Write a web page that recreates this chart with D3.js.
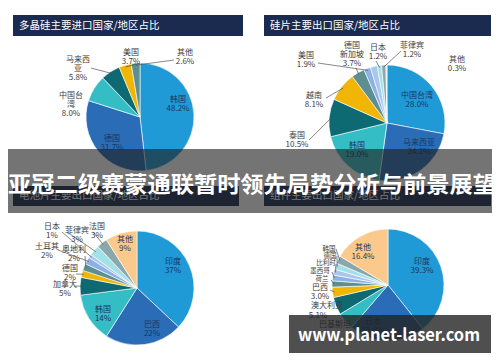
<!DOCTYPE html>
<html>
<head>
<meta charset="utf-8">
<script src="https://cdn.jsdelivr.net/npm/d3@7"></script>
<style>
  body { margin: 0; background: #fff; }
  svg { display: block; }
  text { font-family: "Noto Sans CJK SC", "Noto Sans", sans-serif; }
</style>
</head>
<body>
<svg id="chart" width="500" height="362"></svg>
<script>
// --- data ---
const polyNames = ['韩国', '德国', '中国台湾', '马来西亚', '美国', '其他'];
const polyValues = [48.2, 31.7, 8.0, 5.8, 3.7, 2.6];

const waferNames = ['中国台湾', '马来西亚', '韩国', '泰国', '越南', '新加坡', '美国', '德国', '日本', '菲律宾', '其他'];
const waferValues = [28.0, 24.2, 19.0, 10.5, 8.1, 3.7, 1.9, 1.9, 1.2, 1.2, 0.3];

const cellNames = ['印度', '巴西', '韩国', '加拿大', '德国', '奥地利', '土耳其', '日本', '菲律宾', '法国', '其他'];
const cellValues = [37, 22, 14, 5, 2, 2, 2, 1, 3, 3, 9];

const moduleNames = ['印度', '日本', '巴基斯坦', '澳大利亚', '巴西', '荷兰', '墨西哥', '比利时', '德国', '韩国', '其他'];
const moduleValues = [39.3, 22.0, 5.0, 5.1, 3.0, 1.8, 1.7, 1.7, 1.8, 2.2, 16.4];

const panelTitles = ['多晶硅主要进口国家/地区占比', '硅片主要出口国家/地区占比', '电池片主要出口国家/地区占比', '组件主要出口国家/地区占比'];
const bannerTitle = '亚冠二级赛蒙通联暂时领先局势分析与前景展望';
const watermark = 'www.planet-laser.com';

// --- styles ---
const col = {
  blue: '#1f9ad6', mid: '#2a6cb6', cyan: '#35bdc5', teal: '#0d6972', gold: '#f0b505',
  grayteal: '#5e8f90', steel: '#8cb1e4', lsteel: '#a9c6ec', pale: '#a3e1e9', gray: '#8ca7ab',
  peach: '#fbc98c', ice: '#cfe6ea'
};
const polyColors = [col.blue, col.mid, col.cyan, col.teal, col.gold, col.grayteal];
const waferColors = [col.blue, col.mid, col.cyan, col.teal, col.gold, col.grayteal, col.steel, col.lsteel, col.pale, col.gray, col.ice];
const cellColors = [col.blue, col.mid, col.cyan, col.teal, col.gold, col.grayteal, col.steel, col.lsteel, col.pale, col.gray, col.peach];
const moduleColors = [col.blue, col.mid, col.cyan, col.teal, col.gold, col.grayteal, col.steel, col.lsteel, col.pale, col.gray, col.peach];

// label placement (annotation layout): x, y of first line, optional line split, leader start
const polyLabels = {
  '韩国': { x: 178, y: 100, inside: true },
  '德国': { x: 112, y: 139, inside: true },
  '中国台湾': { x: 71, y: 96, lines: ['中国台', '湾'] },
  '马来西亚': { x: 78, y: 60, lines: ['马来西', '亚'], lead: [91, 68] },
  '美国': { x: 131, y: 53, lead: [137, 64] },
  '其他': { x: 185, y: 53, lead: [174, 60] }
};
const waferLabels = {
  '中国台湾': { x: 417, y: 96, inside: true },
  '马来西亚': { x: 419, y: 143, inside: true },
  '韩国': { x: 357, y: 146, inside: true },
  '泰国': { x: 297, y: 136, lead: [309, 140] },
  '越南': { x: 314, y: 96, lead: [326, 98] },
  '新加坡': { x: 352, y: 46, lines: ['德国', '新加坡'], lead: [356, 68] },
  '美国': { x: 306, y: 56, lead: [318, 63] },
  '德国': { skip: true },
  '日本': { x: 378, y: 48, lead: [376, 61] },
  '菲律宾': { x: 412, y: 46, lead: [401, 51] },
  '其他': { x: 457, y: 60 }
};
const cellLabels = {
  '印度': { x: 173, y: 262, inside: true },
  '巴西': { x: 152, y: 325, inside: true },
  '韩国': { x: 103, y: 310, inside: true },
  '加拿大': { x: 65, y: 285, lead: [74, 286] },
  '德国': { x: 70, y: 269, lead: [76, 274] },
  '奥地利': { x: 74, y: 250, lead: [85, 256] },
  '土耳其': { x: 47, y: 247, lead: [58, 250] },
  '日本': { x: 52, y: 227, lead: [62, 232] },
  '菲律宾': { x: 77, y: 231, lead: [67, 232] },
  '法国': { x: 97, y: 227, lead: [93, 232] },
  '其他': { x: 125, y: 240, inside: true }
};
const moduleLabels = {
  '印度': { x: 422, y: 262, inside: true },
  '日本': { x: 373, y: 322, inside: true },
  '巴基斯坦': { x: 335, y: 325, nopct: true },
  '澳大利亚': { x: 327, y: 306, pctAt: [318, 316], lead: [340, 305] },
  '巴西': { x: 320, y: 288, lead: [330, 290] },
  '荷兰': { x: 322, y: 279, nopct: true, small: true, lead: [331, 280] },
  '墨西哥': { x: 320, y: 271, nopct: true, small: true, lead: [332, 272] },
  '比利时': { x: 326, y: 263, nopct: true, small: true, lead: [336, 264] },
  '德国': { x: 330, y: 256, nopct: true, small: true, lead: [337, 256] },
  '韩国': { x: 329, y: 249, nopct: true, small: true, lead: [336, 249] },
  '其他': { x: 363, y: 248, inside: true }
};

const svg = d3.select('#chart');
const lineGap = 9;

function drawPie(names, values, colors, cx, cy, r, labels, fmt) {
  const pie = d3.pie().sort(null).value(d => d.v);
  const arcs = pie(names.map((n, i) => ({ n: n, v: values[i] })));
  const arc = d3.arc().innerRadius(0).outerRadius(r);
  const rim = d3.arc().innerRadius(r - 2).outerRadius(r - 2);
  const g = svg.append('g').attr('transform', 'translate(' + cx + ',' + cy + ')');

  g.selectAll('path')
    .data(arcs)
    .enter().append('path')
    .attr('d', arc)
    .attr('fill', (d, i) => colors[i])
    .attr('stroke', '#fff')
    .attr('stroke-width', 0.6);

  arcs.forEach(d => {
    const lab = labels[d.data.n];
    if (!lab || lab.skip) return;
    if (lab.lead) {
      const p = rim.centroid(d);
      svg.append('line')
        .attr('x1', lab.lead[0]).attr('y1', lab.lead[1])
        .attr('x2', cx + p[0]).attr('y2', cy + p[1])
        .attr('stroke', '#555').attr('stroke-width', 0.7);
    }
    const lines = (lab.lines || [d.data.n]).slice();
    const pct = fmt(d.data.v) + '%';
    const t = svg.append('text')
      .attr('text-anchor', 'middle')
      .attr('dominant-baseline', 'middle')
      .attr('font-size', lab.small ? 6.5 : 8)
      .attr('fill', lab.inside ? '#1c355c' : '#3c3c3c');
    lines.forEach((s, k) => {
      t.append('tspan').attr('x', lab.x).attr('y', lab.y + k * lineGap).text(s);
    });
    if (!lab.nopct) {
      if (lab.pctAt) {
        t.append('tspan').attr('x', lab.pctAt[0]).attr('y', lab.pctAt[1]).text(pct);
      } else {
        t.append('tspan').attr('x', lab.x).attr('y', lab.y + lines.length * lineGap).text(pct);
      }
    }
  });
}

// panel header bars
const headers = [[13, 15, 230, 21], [264, 15, 227, 21], [13, 186, 226, 20], [264, 186, 227, 20]];
headers.forEach((h, i) => {
  svg.append('rect').attr('x', h[0]).attr('y', h[1]).attr('width', h[2]).attr('height', h[3]).attr('fill', '#1b2b50');
  svg.append('text')
    .attr('x', h[0] + 6).attr('y', h[1] + h[3] / 2 + 0.5)
    .attr('dominant-baseline', 'middle')
    .attr('font-size', 10.5)
    .attr('fill', '#fff')
    .text(panelTitles[i]);
});

const f1 = d3.format('.1f');
const f0 = d3.format('d');
drawPie(polyNames, polyValues, polyColors, 140, 117, 54, polyLabels, f1);
drawPie(waferNames, waferValues, waferColors, 387, 123, 58, waferLabels, f1);
drawPie(cellNames, cellValues, cellColors, 137, 288, 57, cellLabels, f0);
drawPie(moduleNames, moduleValues, moduleColors, 388, 285, 56, moduleLabels, f1);

// grey banner with headline
svg.append('rect').attr('x', 8).attr('y', 149).attr('width', 484).attr('height', 64)
  .attr('fill', 'rgba(30,30,30,0.62)');
svg.append('text')
  .attr('x', 8).attr('y', 192)
  .attr('font-size', 22).attr('font-weight', 'bold')
  .attr('fill', '#fff')
  .attr('textLength', 488).attr('lengthAdjust', 'spacingAndGlyphs')
  .text(bannerTitle);

// watermark
svg.append('rect').attr('x', 289).attr('y', 315).attr('width', 202).attr('height', 38)
  .attr('fill', 'rgba(35,35,35,0.8)');
svg.append('text')
  .attr('x', 298).attr('y', 341)
  .attr('font-family', '"DejaVu Sans", sans-serif')
  .attr('font-size', 17).attr('font-weight', 'bold')
  .attr('fill', '#fff')
  .attr('textLength', 182).attr('lengthAdjust', 'spacingAndGlyphs')
  .text(watermark);
</script>
</body>
</html>
